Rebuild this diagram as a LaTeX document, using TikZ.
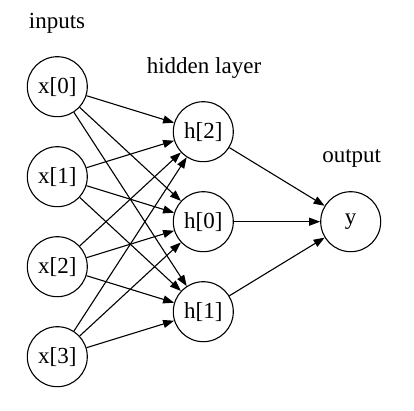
\documentclass[tikz,border=0pt]{standalone}
\usepackage{fontspec}
\setmainfont{Liberation Serif}
\usetikzlibrary{arrows.meta}
\begin{document}
\begin{tikzpicture}[x=1pt,y=-1pt,
  neuron/.style={draw,circle,minimum size=60pt,inner sep=0pt,line width=1.1pt,font=\fontsize{23}{27}\selectfont},
  lbl/.style={font=\fontsize{23}{27}\selectfont,inner sep=0pt},
  conn/.style={line width=1.1pt,-{Triangle[length=11pt,width=8pt]}}]
\useasboundingbox (0,0) rectangle (414,411);
\node[neuron] (x0) at (57.3,86.7) {x[0]};
\node[neuron] (x1) at (57.3,176.7) {x[1]};
\node[neuron] (x2) at (57.3,266.7) {x[2]};
\node[neuron] (x3) at (57.3,356.7) {x[3]};
\node[neuron] (h2) at (203.3,131.7) {h[2]};
\node[neuron] (h0) at (203.3,221.7) {h[0]};
\node[neuron] (h1) at (203.3,311.7) {h[1]};
\node[neuron] (y) at (350.7,221.7) {y};
\node[lbl] (lin) at (57,23) {inputs};
\node[lbl] (lhid) at (204,68) {hidden layer};
\node[lbl] (lout) at (351.7,158) {output};
\foreach \i in {x0,x1,x2,x3}{
  \foreach \j in {h2,h0,h1}{
    \draw[conn] (\i) -- (\j);
  }
}
\foreach \j in {h2,h0,h1}{
  \draw[conn] (\j) -- (y);
}
\end{tikzpicture}
\end{document}
